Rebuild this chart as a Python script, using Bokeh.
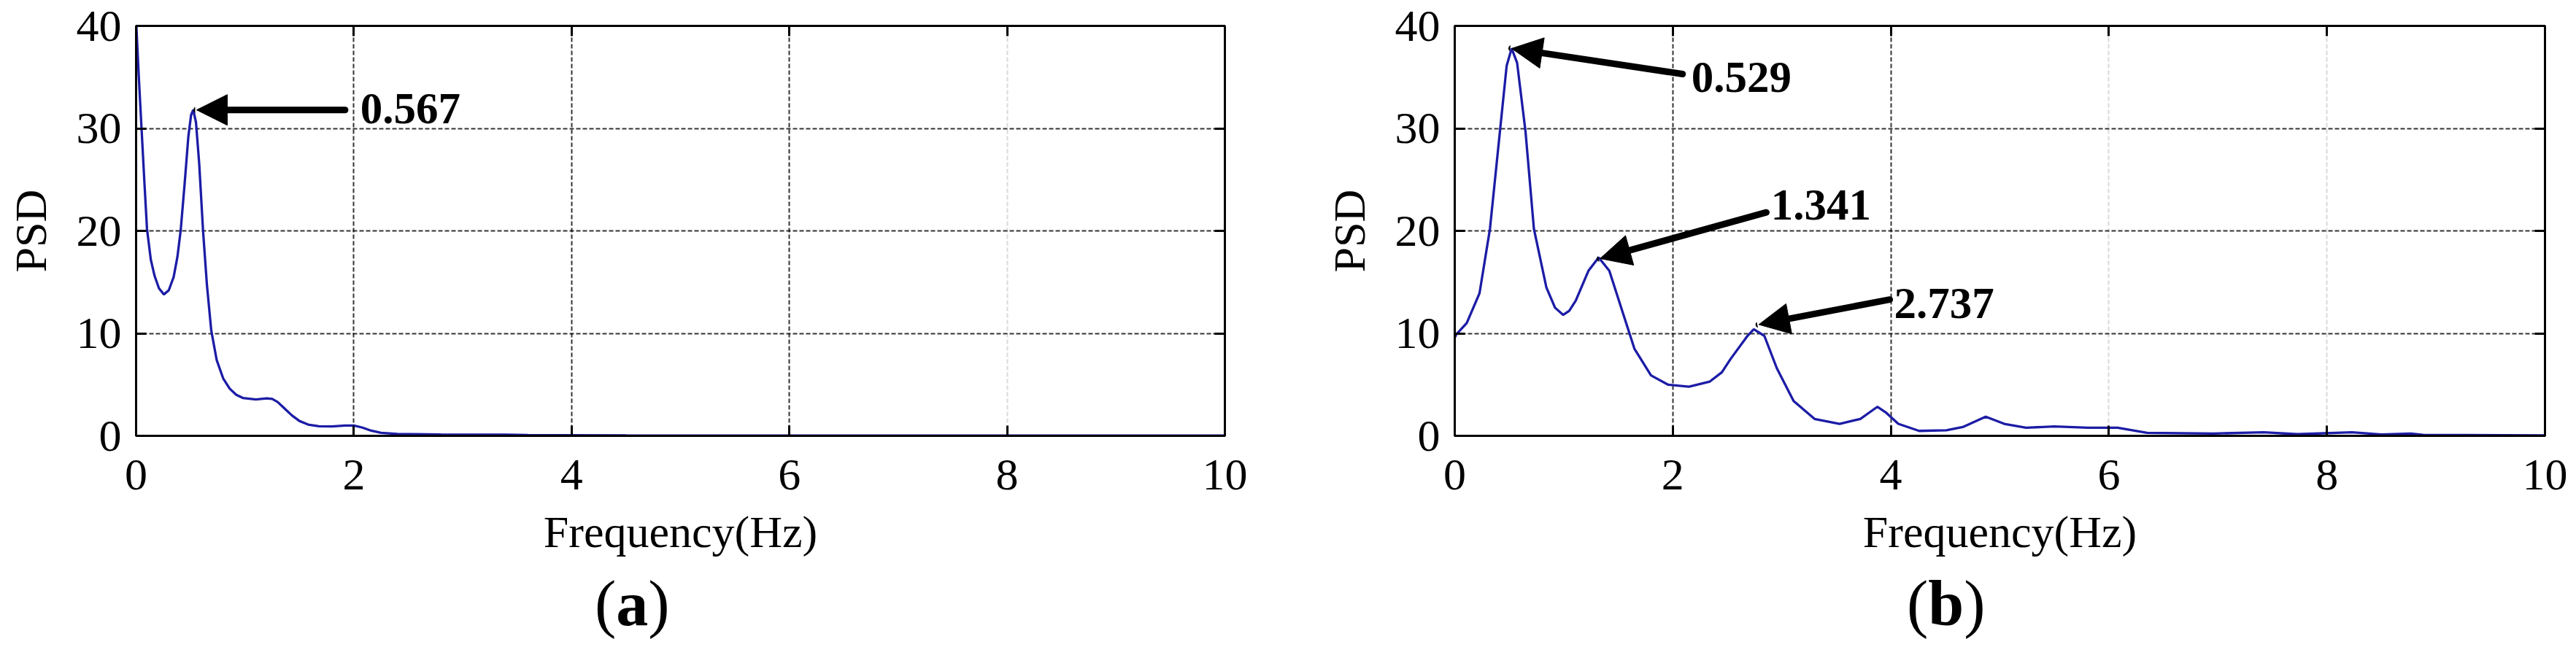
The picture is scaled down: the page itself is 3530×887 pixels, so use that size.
from bokeh.plotting import figure
from bokeh.layouts import row, column
from bokeh.models import (Range1d, FixedTicker, LinearAxis, Grid, Arrow, NormalHead, Label, Div)
from bokeh.embed import file_html
from bokeh.resources import INLINE

# ---------------- data ----------------
freq_a = [0.0, 0.025, 0.05, 0.075, 0.10, 0.135, 0.17, 0.21, 0.255, 0.30, 0.345, 0.38, 0.41,
          0.445, 0.48, 0.505, 0.525, 0.55, 0.58, 0.615, 0.65, 0.69, 0.74, 0.80, 0.86, 0.92,
          0.98, 1.10, 1.20, 1.25, 1.30, 1.36, 1.43, 1.50, 1.58, 1.68, 1.80, 1.92, 2.00, 2.08,
          2.16, 2.25, 2.40, 2.80, 3.40, 3.60, 4.50, 6.00, 8.00, 10.0]
psd_a = [40.5, 35.0, 30.0, 25.0, 20.2, 17.2, 15.6, 14.4, 13.8, 14.2, 15.5, 17.5, 20.1,
         24.5, 29.2, 31.3, 31.8, 30.6, 26.5, 20.0, 14.8, 10.3, 7.4, 5.6, 4.6, 4.0,
         3.7, 3.55, 3.65, 3.6, 3.3, 2.7, 2.0, 1.45, 1.1, 0.93, 0.92, 1.0, 1.0, 0.8,
         0.5, 0.3, 0.18, 0.14, 0.12, 0.07, 0.04, 0.03, 0.02, 0.02]

freq_b = [0.0, 0.015, 0.11, 0.227, 0.323, 0.40, 0.476, 0.522, 0.572, 0.649, 0.726, 0.84,
          0.92, 0.995, 1.05, 1.11, 1.226, 1.32, 1.418, 1.533, 1.648, 1.80, 1.955, 2.148,
          2.34, 2.45, 2.53, 2.685, 2.743, 2.84, 2.954, 3.108, 3.30, 3.53, 3.72, 3.876,
          3.953, 4.068, 4.26, 4.51, 4.66, 4.87, 5.04, 5.24, 5.50, 5.81, 6.08, 6.35,
          6.96, 7.42, 7.73, 8.23, 8.50, 8.77, 8.88, 10.0]
psd_b = [9.6, 9.9, 11.0, 13.9, 20.2, 28.2, 36.1, 37.8, 36.4, 29.7, 20.2, 14.5,
         12.5, 11.8, 12.2, 13.2, 16.1, 17.4, 16.1, 12.3, 8.5, 5.9, 5.0, 4.8,
         5.3, 6.2, 7.5, 9.75, 10.4, 9.75, 6.6, 3.4, 1.65, 1.17, 1.65, 2.83,
         2.29, 1.17, 0.48, 0.54, 0.86, 1.87, 1.17, 0.79, 0.92, 0.79, 0.79, 0.29,
         0.22, 0.35, 0.16, 0.35, 0.13, 0.22, 0.10, 0.05]

x_ticks = [0, 2, 4, 6, 8, 10]
y_ticks = [0, 10, 20, 30, 40]

# peak annotations: label, arrow tip (x, y), arrow tail (x, y), text anchor (x, y)
ann_a = [("0.567", (0.556, 31.8), (1.92, 31.8), (2.06, 31.9))]
ann_b = [("0.529", (0.522, 37.8), (2.09, 35.3), (2.17, 35.0)),
         ("1.341", (1.333, 17.3), (2.858, 21.8), (2.90, 22.5)),
         ("2.737", (2.789, 10.86), (3.99, 13.3), (4.03, 12.9))]

FONT = "Liberation Serif"
LINE_COLOR = "#1c1ca6"


def make_panel(freq, psd, ann, dark_x, light_x, border_left, frame_w, border_right):
    p = figure(frame_width=frame_w, frame_height=562,
               min_border_left=border_left, min_border_right=border_right,
               min_border_top=35, min_border_bottom=187,
               x_range=Range1d(0, 10), y_range=Range1d(0, 40),
               output_backend="svg", toolbar_location=None,
               background_fill_color="white", border_fill_color="white")
    p.grid.visible = False
    p.outline_line_color = "black"
    p.outline_line_width = 3

    p.xaxis.axis_label = "Frequency(Hz)"
    p.yaxis.axis_label = "PSD"
    p.xaxis.ticker = FixedTicker(ticks=x_ticks)
    p.yaxis.ticker = FixedTicker(ticks=y_ticks)
    for ax in (p.xaxis[0], p.yaxis[0]):
        ax.axis_line_width = 3
        ax.major_tick_in = 14
        ax.major_tick_out = 0
        ax.major_tick_line_width = 3
        ax.minor_tick_line_color = None
        ax.major_label_text_font = FONT
        ax.major_label_text_font_size = "62px"
        ax.major_label_text_color = "black"
        ax.axis_label_text_font = FONT
        ax.axis_label_text_font_style = "normal"
        ax.axis_label_text_font_size = "62px"
        ax.axis_label_text_color = "black"
    p.yaxis.major_label_standoff = 20
    p.yaxis.axis_label_standoff = 26
    p.xaxis.major_label_standoff = 33
    p.xaxis.axis_label_standoff = 21

    # mirrored axes (ticks only) on top and right
    top = LinearAxis(ticker=FixedTicker(ticks=x_ticks), major_tick_in=14, major_tick_out=0,
                     major_tick_line_width=3, axis_line_width=3, minor_tick_line_color=None,
                     major_label_text_color=None, major_label_standoff=0)
    right = LinearAxis(ticker=FixedTicker(ticks=y_ticks), major_tick_in=14, major_tick_out=0,
                       major_tick_line_width=3, axis_line_width=3, minor_tick_line_color=None,
                       major_label_text_color=None, major_label_standoff=0)
    p.add_layout(top, "above")
    p.add_layout(right, "right")

    # grids
    p.add_layout(Grid(dimension=0, ticker=FixedTicker(ticks=dark_x), grid_line_color="black",
                      grid_line_alpha=0.8, grid_line_width=2, grid_line_dash="6 3"))
    p.add_layout(Grid(dimension=0, ticker=FixedTicker(ticks=light_x), grid_line_color="#d9d9d9",
                      grid_line_width=2, grid_line_dash="6 3"))
    p.add_layout(Grid(dimension=1, ticker=FixedTicker(ticks=[10, 20, 30]), grid_line_color="black",
                      grid_line_alpha=0.8, grid_line_width=2, grid_line_dash="6 3"))

    p.line(freq, psd, line_color=LINE_COLOR, line_width=3.3)

    for text, tip, tail, anchor in ann:
        p.add_layout(Arrow(end=NormalHead(size=42, fill_color="black", line_color="black",
                                          line_width=1),
                           x_start=tail[0], y_start=tail[1], x_end=tip[0], y_end=tip[1],
                           line_color="black", line_width=9, line_cap="round"))
        p.add_layout(Label(x=anchor[0], y=anchor[1], text=text, text_font=FONT,
                           text_font_style="bold", text_font_size="61px",
                           text_color="black", text_baseline="middle", text_align="left"))
    return p


def caption(letter, left_px, width):
    html = ('<div style="font-family:\'Liberation Serif\'; font-size:88px; line-height:88px; '
            'color:black; white-space:nowrap; padding-left:%dpx;">(<b>%s</b>)</div>'
            % (left_px, letter))
    return Div(text=html, width=width, height=90, margin=0)


p1 = make_panel(freq_a, psd_a, ann_a, [2, 4, 6], [8], 186, 1492, 122)
p2 = make_panel(freq_b, psd_b, ann_b, [2, 4], [6, 8], 193, 1494, 40)

c1 = caption("a", 815, 1800)
c2 = caption("b", 813, 1727)

layout = row(column(p1, c1, spacing=0), column(p2, c2, spacing=0), spacing=0)
open("out.html", "w").write(file_html(layout, INLINE))
